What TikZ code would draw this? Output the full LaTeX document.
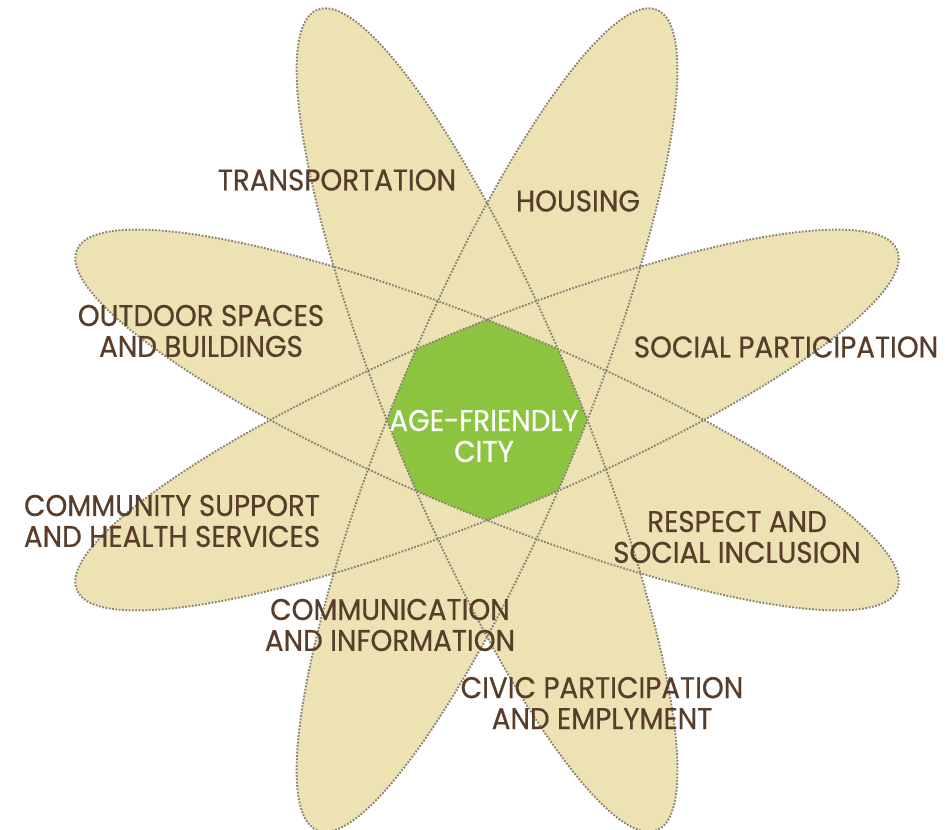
\documentclass[tikz,border=0pt]{standalone}
\usepackage{fontspec}
\setmainfont[FakeStretch=0.93, FakeBold=0.6]{Poppins}
\usepackage{tikz}
\usetikzlibrary{positioning}
\definecolor{petalo}{RGB}{237,226,180}
\definecolor{borde}{RGB}{140,130,115}
\definecolor{verde}{RGB}{140,196,63}
\definecolor{marron}{RGB}{88,62,42}
\tikzset{petal/.style={fill=petalo}}
\tikzset{contorno/.style={draw=borde, line width=1.1pt, dash pattern=on 1pt off 0.9pt}}
\tikzset{etiqueta/.style={text=marron, align=center, inner sep=0pt, font=\fontsize{17}{17.6}\selectfont}}

\begin{document}
\begin{tikzpicture}[x=0.02cm, y=0.02cm]
            \useasboundingbox (0,0) rectangle (945,830);
            \coordinate (c) at (487,410);

            % petalos
            \fill[petal, rotate around={22.5:(c)}]  (c) ellipse [x radius=444, y radius=93];
            \fill[petal, rotate around={67.5:(c)}]  (c) ellipse [x radius=444, y radius=93];
            \fill[petal, rotate around={112.5:(c)}] (c) ellipse [x radius=444, y radius=93];
            \fill[petal, rotate around={157.5:(c)}] (c) ellipse [x radius=444, y radius=93];

            % centro
            \begin{scope}
                \clip[rotate around={22.5:(c)}]  (c) ellipse [x radius=444, y radius=93];
                \clip[rotate around={67.5:(c)}]  (c) ellipse [x radius=444, y radius=93];
                \clip[rotate around={112.5:(c)}] (c) ellipse [x radius=444, y radius=93];
                \clip[rotate around={157.5:(c)}] (c) ellipse [x radius=444, y radius=93];
                \fill[verde] (0,0) rectangle (945,830);
            \end{scope}

            \draw[contorno, rotate around={22.5:(c)}]  (c) ellipse [x radius=444, y radius=93];
            \draw[contorno, rotate around={67.5:(c)}]  (c) ellipse [x radius=444, y radius=93];
            \draw[contorno, rotate around={112.5:(c)}] (c) ellipse [x radius=444, y radius=93];
            \draw[contorno, rotate around={157.5:(c)}] (c) ellipse [x radius=444, y radius=93];

            \node[etiqueta, text=white, font=\fontsize{17}{17.6}\selectfont] (ciudad) at (484,394) {AGE-FRIENDLY\\CITY};

            \node[etiqueta] (transporte) at (337,650) {TRANSPORTATION};
            \node[etiqueta] (vivienda) at (578,629) {HOUSING};
            \node[etiqueta] (exteriores) at (201,499) {OUTDOOR SPACES\\AND BUILDINGS};
            \node[etiqueta] (social) at (786,483) {SOCIAL PARTICIPATION};
            \node[etiqueta] (comunidad) at (172,309) {COMMUNITY SUPPORT\\AND HEALTH SERVICES};
            \node[etiqueta] (respeto) at (737,293) {RESPECT AND\\SOCIAL INCLUSION};
            \node[etiqueta] (comunicacion) at (390,205) {COMMUNICATION\\AND INFORMATION};
            \node[etiqueta] (civica) at (602,127) {CIVIC PARTICIPATION\\AND EMPLYMENT};
        \end{tikzpicture}
\end{document}
